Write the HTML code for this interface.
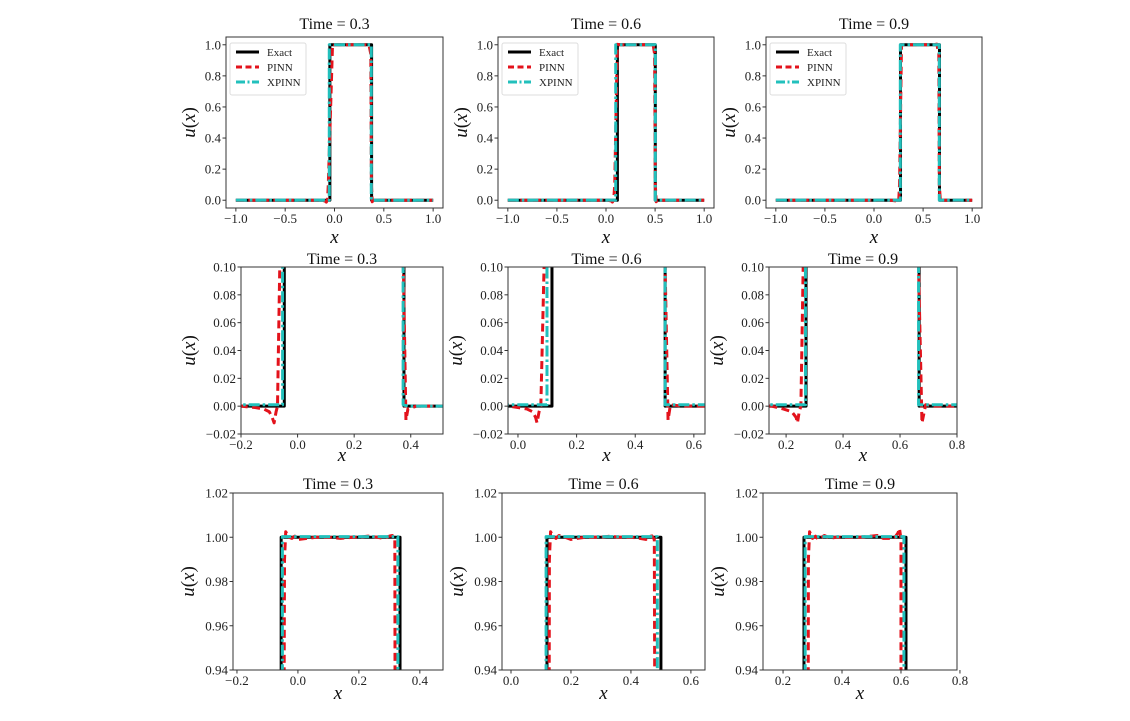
<!DOCTYPE html>
<html><head><meta charset="utf-8"><style>
html,body{margin:0;padding:0;background:#fff;width:1130px;height:721px;overflow:hidden;}
svg{display:block;font-family:"Liberation Serif","DejaVu Serif",serif;overflow:hidden;}
</style></head><body>
<svg id="fig" width="1130" height="721" viewBox="0 0 1130 721" xmlns="http://www.w3.org/2000/svg"></svg>
<script>
// ---- data (x in data units, u(x)) ----
const times = ["0.3", "0.6", "0.9"];
// sharp-edge view (top and middle rows)
const exactX_03 = [-1, -0.047, -0.047, 0.376, 0.376, 1];
const exactY_03 = [0, 0, 1, 1, 0, 0];
const pinnX_03 = [-1, -0.2, -0.15, -0.12, -0.1, -0.09, -0.083, -0.076, -0.071, -0.063, -0.02, 0.0, 0.05, 0.1, 0.15, 0.2, 0.25, 0.3, 0.35, 0.368, 0.374, 0.383, 0.39, 0.42, 1];
const pinnY_03 = [0, 0, -0.001, -0.002, -0.004, -0.008, -0.012, -0.004, 0, 0.1, 1.003, 0.999, 1.001, 0.9995, 1.0, 1.0005, 1.0, 1.0005, 0.999, 0.94, 0.1, -0.01, -0.002, 0, 0];
const xpinnX_03 = [-1, -0.053, -0.053, 0.373, 0.373, 0.39, 1];
const xpinnY_03 = [0.001, 0.001, 1, 1, 0.001, 0, 0];

const exactX_06 = [-1, 0.116, 0.116, 0.502, 0.502, 1];
const exactY_06 = [0, 0, 1, 1, 0, 0];
const pinnX_06 = [-1, -0.03, 0.0, 0.03, 0.05, 0.06, 0.065, 0.072, 0.078, 0.089, 0.115, 0.14, 0.18, 0.22, 0.26, 0.3, 0.35, 0.4, 0.44, 0.48, 0.495, 0.502, 0.512, 0.52, 0.56, 1];
const pinnY_06 = [0, 0, -0.001, -0.002, -0.004, -0.008, -0.012, -0.004, 0, 0.1, 1.003, 1.001, 0.9995, 0.999, 1.0, 1.0, 1.0, 1.0005, 0.9995, 1.001, 0.94, 0.1, -0.01, 0.001, 0, 0];
const xpinnX_06 = [-1, 0.099, 0.099, 0.502, 0.502, 1];
const xpinnY_06 = [0.001, 0.001, 1, 1, 0.001, 0.001];

const exactX_09 = [-1, 0.27, 0.27, 0.667, 0.667, 1];
const exactY_09 = [0, 0, 1, 1, 0, 0];
const pinnX_09 = [-1, 0.15, 0.19, 0.22, 0.235, 0.24, 0.246, 0.252, 0.26, 0.28, 0.3, 0.35, 0.4, 0.45, 0.5, 0.55, 0.6, 0.64, 0.66, 0.665, 0.677, 0.69, 0.72, 1];
const pinnY_09 = [0, 0, -0.002, -0.004, -0.008, -0.012, -0.004, 0, 0.1, 1.002, 0.999, 1.001, 0.9995, 1.0, 1.0005, 1.0, 0.9995, 1.004, 0.94, 0.1, -0.012, 0.001, 0, 0];
const xpinnX_09 = [-1, 0.268, 0.268, 0.665, 0.665, 1];
const xpinnY_09 = [0.001, 0.001, 1, 1, 0.001, 0.001];

// plateau view (bottom row)
const pExactX_03 = [-0.055, -0.055, 0.335, 0.335];
const pExactY_03 = [0.9, 1.0, 1.0, 0.9];
const pPinnX_03 = [-0.046, -0.044, -0.04, -0.03, -0.02, -0.01, 0.0, 0.03, 0.06, 0.1, 0.14, 0.18, 0.2, 0.23, 0.26, 0.28, 0.3, 0.31, 0.318, 0.319];
const pPinnY_03 = [0.9, 0.99, 1.0025, 1.0, 0.9995, 1.0005, 0.999, 0.9995, 1.0, 1.0, 0.9995, 1.0, 1.0, 1.0005, 1.0, 0.9995, 1.0005, 1.0008, 0.999, 0.9];
const pXpinnX_03 = [-0.051, -0.051, 0.328, 0.328];
const pXpinnY_03 = [0.9, 1.0003, 1.0003, 0.9];

const pExactX_06 = [0.12, 0.12, 0.5, 0.5];
const pExactY_06 = [0.9, 1.0, 1.0, 0.9];
const pPinnX_06 = [0.127, 0.128, 0.132, 0.14, 0.15, 0.16, 0.18, 0.2, 0.22, 0.25, 0.28, 0.3, 0.33, 0.36, 0.4, 0.43, 0.45, 0.46, 0.47, 0.478, 0.48];
const pPinnY_06 = [0.9, 0.99, 1.0025, 1.0005, 0.9995, 1.0008, 1.0, 0.999, 0.9995, 1.0, 1.0, 1.0, 1.0005, 1.0, 1.0, 0.9995, 0.999, 1.0003, 1.0006, 0.999, 0.9];
const pXpinnX_06 = [0.117, 0.117, 0.488, 0.488];
const pXpinnY_06 = [0.9, 1.0003, 1.0003, 0.9];

const pExactX_09 = [0.271, 0.271, 0.617, 0.617];
const pExactY_09 = [0.9, 1.0, 1.0, 0.9];
const pPinnX_09 = [0.285, 0.286, 0.29, 0.3, 0.31, 0.32, 0.34, 0.36, 0.38, 0.4, 0.43, 0.46, 0.5, 0.52, 0.54, 0.56, 0.58, 0.59, 0.595, 0.6, 0.6];
const pPinnY_09 = [0.9, 0.99, 1.0025, 0.9995, 1.0005, 0.999, 1.0008, 0.9995, 1.0, 1.0, 1.0, 1.0, 1.0005, 1.0008, 0.9995, 0.9995, 1.0, 1.002, 1.004, 0.999, 0.9];
const pXpinnX_09 = [0.275, 0.275, 0.61, 0.61];
const pXpinnY_09 = [0.9, 1.0003, 1.0003, 0.9];

const sharp = [
  {ex: exactX_03, ey: exactY_03, px: pinnX_03, py: pinnY_03, cx: xpinnX_03, cy: xpinnY_03},
  {ex: exactX_06, ey: exactY_06, px: pinnX_06, py: pinnY_06, cx: xpinnX_06, cy: xpinnY_06},
  {ex: exactX_09, ey: exactY_09, px: pinnX_09, py: pinnY_09, cx: xpinnX_09, cy: xpinnY_09}
];
const plateau = [
  {ex: pExactX_03, ey: pExactY_03, px: pPinnX_03, py: pPinnY_03, cx: pXpinnX_03, cy: pXpinnY_03},
  {ex: pExactX_06, ey: pExactY_06, px: pPinnX_06, py: pPinnY_06, cx: pXpinnX_06, cy: pXpinnY_06},
  {ex: pExactX_09, ey: pExactY_09, px: pPinnX_09, py: pPinnY_09, cx: pXpinnX_09, cy: pXpinnY_09}
];

const topXTicks = [-1.0, -0.5, 0.0, 0.5, 1.0];
const topYTicks = [0.0, 0.2, 0.4, 0.6, 0.8, 1.0];
const midYTicks = [-0.02, 0.0, 0.02, 0.04, 0.06, 0.08, 0.10];
const botYTicks = [0.94, 0.96, 0.98, 1.00, 1.02];
const zoomXTicks = [[-0.2, 0.0, 0.2, 0.4], [0.0, 0.2, 0.4, 0.6], [0.2, 0.4, 0.6, 0.8]];

// ---- layout ----
const panels = [];
const topCols = [[226, 443], [498, 714], [766, 982]];
const midCols = [[241, 443, -0.2, 0.514], [508, 705, -0.034, 0.638], [769, 957, 0.14, 0.8]];
const botCols = [[233, 443, -0.213, 0.476], [502, 705, -0.03, 0.647], [763, 957, 0.132, 0.79]];
for (let i = 0; i < 3; i++) {
  panels.push({row: "top", i, l: topCols[i][0], r: topCols[i][1], t: 37, b: 208, xl: [-1.1, 1.1], yl: [-0.05, 1.05], xt: topXTicks, yt: topYTicks, dec: 1, d: sharp[i], legend: true, titleY: 29, xlabY: 243, yoff: 31});
}
for (let i = 0; i < 3; i++) {
  panels.push({row: "middle", i, l: midCols[i][0], r: midCols[i][1], t: 267, b: 434, xl: [midCols[i][2], midCols[i][3]], yl: [-0.02, 0.10], xt: zoomXTicks[i], yt: midYTicks, dec: 2, d: sharp[i], legend: false, titleY: 264, xlabY: 461, yoff: 46});
}
for (let i = 0; i < 3; i++) {
  panels.push({row: "bottom", i, l: botCols[i][0], r: botCols[i][1], t: 493, b: 670, xl: [botCols[i][2], botCols[i][3]], yl: [0.94, 1.02], xt: zoomXTicks[i], yt: botYTicks, dec: 2, d: plateau[i], legend: false, titleY: 489, xlabY: 699, yoff: 39});
}

const NS = "http://www.w3.org/2000/svg";
const svg = document.getElementById("fig");
function mk(tag, attrs, parent) {
  const e = document.createElementNS(NS, tag);
  for (const k in attrs) e.setAttribute(k, attrs[k]);
  (parent || svg).appendChild(e);
  return e;
}
function fmt(v, dec) {
  const s = Math.abs(v).toFixed(dec);
  return (v < -1e-9 ? "\u2212" : "") + s;
}
const RED = "#e3121b", CYAN = "#22c0bc";

// clip a polyline (data coords) to y in [lo, hi]; returns list of subpaths
function clipY(xs, ys, lo, hi) {
  const out = [];
  let cur = null;
  for (let j = 0; j < xs.length - 1; j++) {
    let x0 = xs[j], y0 = ys[j], x1 = xs[j + 1], y1 = ys[j + 1];
    let t0 = 0, t1 = 1;
    const dy = y1 - y0;
    if (dy === 0) {
      if (y0 < lo || y0 > hi) { cur = null; continue; }
    } else {
      let ta = (lo - y0) / dy, tb = (hi - y0) / dy;
      if (ta > tb) { const tmp = ta; ta = tb; tb = tmp; }
      t0 = Math.max(0, ta); t1 = Math.min(1, tb);
      if (t0 > t1) { cur = null; continue; }
    }
    const ax = x0 + (x1 - x0) * t0, ay = y0 + dy * t0;
    const bx = x0 + (x1 - x0) * t1, by = y0 + dy * t1;
    if (!cur || t0 > 0) { cur = [[ax, ay]]; out.push(cur); }
    cur.push([bx, by]);
    if (t1 < 1) cur = null;
  }
  return out;
}

panels.forEach((p, k) => {
  const g = mk("g", {});
  
  
  const sx = v => p.l + (v - p.xl[0]) / (p.xl[1] - p.xl[0]) * (p.r - p.l);
  const sy = v => p.b - (v - p.yl[0]) / (p.yl[1] - p.yl[0]) * (p.b - p.t);
  const cid = "clip" + k;
  const cp = mk("clipPath", {id: cid}, g);
  mk("rect", {x: p.l, y: p.t, width: p.r - p.l, height: p.b - p.t}, cp);
  const lg = mk("g", {"clip-path": "url(#" + cid + ")"}, g);
  const span = p.yl[1] - p.yl[0];
  function line(xs, ys, style, name) {
    const subs = clipY(xs, ys, p.yl[0] - span * 0.03, p.yl[1] + span * 0.03);
    let d = "";
    subs.forEach(s => {
      s.forEach((pt, j) => {
        d += (j === 0 ? "M" : "L") + sx(pt[0]).toFixed(2) + "," + sy(pt[1]).toFixed(2) + " ";
      });
    });
    const pl = mk("path", Object.assign({d: d, fill: "none", "stroke-linejoin": "round"}, style), lg);
    
    
  }
  line(p.d.ex, p.d.ey, {stroke: "#000", "stroke-width": 3}, "exact-line");
  line(p.d.px, p.d.py, {stroke: RED, "stroke-width": 3, "stroke-dasharray": "8,4.5"}, "pinn-line");
  line(p.d.cx, p.d.cy, {stroke: CYAN, "stroke-width": 3, "stroke-dasharray": "11,3,2.5,3"}, "xpinn-line");
  const fr = mk("rect", {x: p.l, y: p.t, width: p.r - p.l, height: p.b - p.t, fill: "none", stroke: "#333", "stroke-width": 1}, g);
  
  
  p.xt.forEach(v => {
    const x = sx(v);
    mk("line", {x1: x, x2: x, y1: p.b, y2: p.b + 3.5, stroke: "#333", "stroke-width": 1}, g);
    const t = mk("text", {x: x, y: p.b + 15, "text-anchor": "middle", "font-size": 13, fill: "#222"}, g);
    t.textContent = fmt(v, 1);
    
    
  });
  p.yt.forEach(v => {
    const y = sy(v);
    mk("line", {x1: p.l - 3.5, x2: p.l, y1: y, y2: y, stroke: "#333", "stroke-width": 1}, g);
    const t = mk("text", {x: p.l - 5, y: y + 4.5, "text-anchor": "end", "font-size": 13, fill: "#222"}, g);
    t.textContent = fmt(v, p.dec);
    
    
  });
  const ti = mk("text", {x: (p.l + p.r) / 2, y: p.titleY, "text-anchor": "middle", "font-size": 16, fill: "#111"}, g);
  ti.textContent = "Time = " + times[p.i];
  
  
  const xl = mk("text", {x: (p.l + p.r) / 2, y: p.xlabY, "text-anchor": "middle", "font-size": 19, "font-style": "italic", fill: "#111"}, g);
  xl.textContent = "x";
  
  
  const yx = p.l - p.yoff, yy = (p.t + p.b) / 2;
  const yl = mk("text", {x: yx, y: yy, "text-anchor": "middle", "font-size": 19, fill: "#111", transform: "rotate(-90 " + yx + " " + yy + ")"}, g);
  yl.innerHTML = '<tspan font-style="italic">u</tspan>(<tspan font-style="italic">x</tspan>)';
  
  
  if (p.legend) {
    const lgd = mk("g", {}, g);
    
    
    const bx = p.l + 4;
    mk("rect", {x: bx, y: 43, width: 76, height: 52, rx: 2, fill: "#fff", "fill-opacity": 0.85, stroke: "#ddd", "stroke-width": 1}, lgd);
    const ents = [["Exact", "#000", ""], ["PINN", RED, "6,3.5"], ["XPINN", CYAN, "9,2.5,2,2.5"]];
    ents.forEach((en, j) => {
      const y = 52 + j * 15;
      const ln = mk("line", {x1: bx + 6, x2: bx + 29, y1: y, y2: y, stroke: en[1], "stroke-width": 3, "stroke-dasharray": en[2]}, lgd);
      
      
      const t = mk("text", {x: bx + 37, y: y + 4, "font-size": 11, fill: "#222"}, lgd);
      t.textContent = en[0];
      
      
    });
  }
});
</script>
</body></html>
